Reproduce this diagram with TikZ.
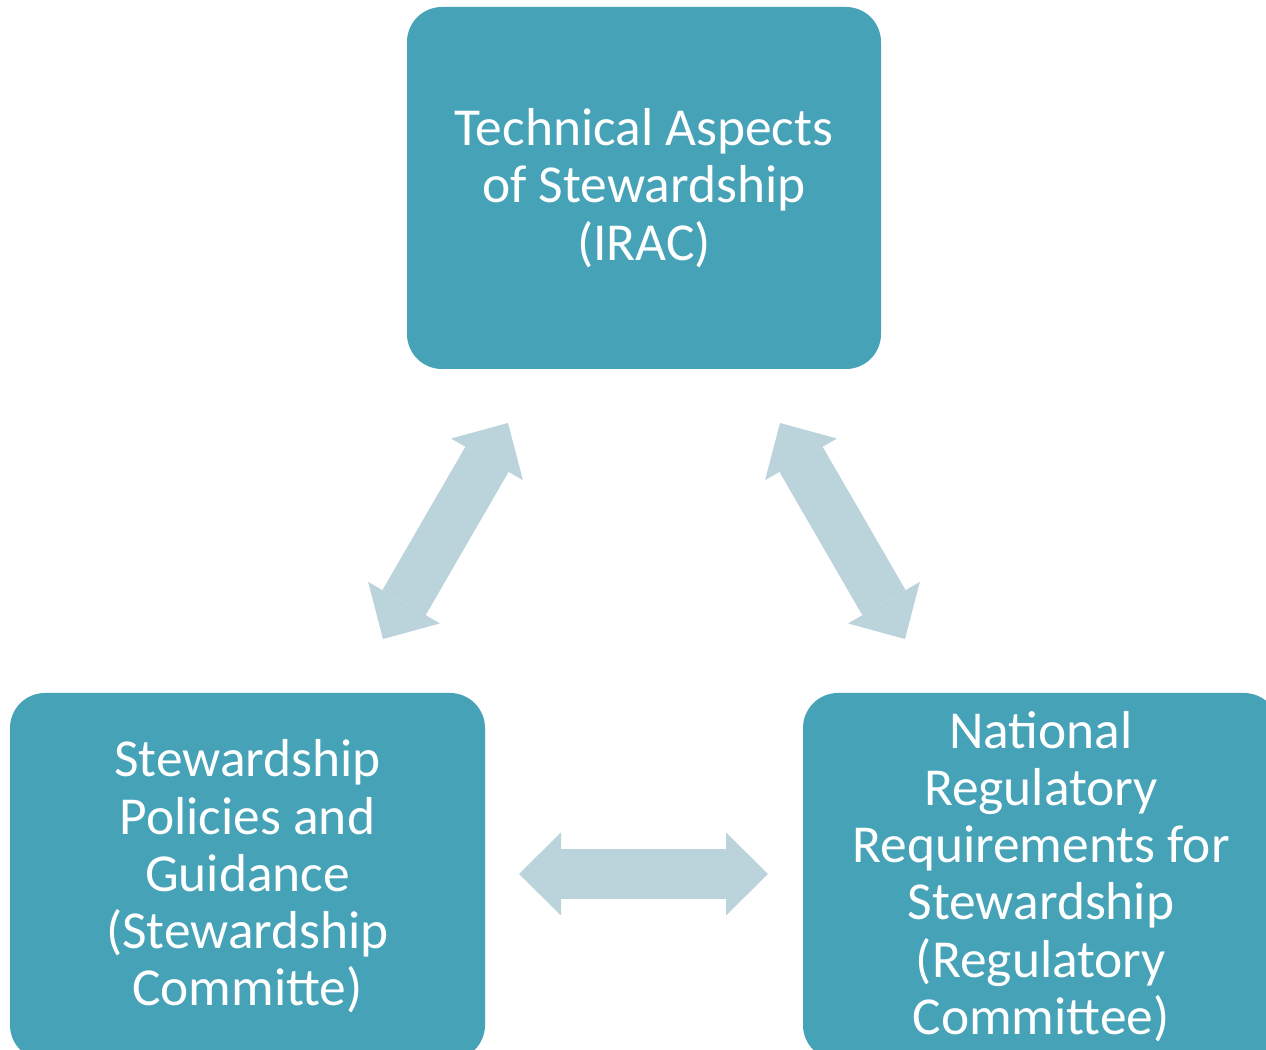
\documentclass[tikz,border=0pt]{standalone}
\usepackage{fontspec}
\setmainfont{Carlito}
\usetikzlibrary{arrows.meta}

\definecolor{boxteal}{HTML}{45A2B7}
\definecolor{arrowgrey}{HTML}{BBD3DB}

\tikzset{
  panel/.style={fill=boxteal, rounded corners=0.35cm, text=white, align=center,
    font=\fontsize{15.2}{16.3}\selectfont, inner sep=0pt},
  twoway/.style={draw=arrowgrey, line width=0.5cm,
    {Triangle[length=0.42cm,width=0.83cm,line width=0pt]}-{Triangle[length=0.42cm,width=0.83cm,line width=0pt]}}
}

\begin{document}
\begin{tikzpicture}
\useasboundingbox (0,0) rectangle (12.66,10.50);
\clip (0,0) rectangle (12.66,10.50);

\node[panel, minimum width=4.74cm, minimum height=3.62cm] (irac) at (6.44,8.62) {Technical Aspects\\of Stewardship\\(IRAC)};
\node[panel, minimum width=4.75cm, minimum height=3.67cm] (policy) at (2.475,1.735) {Stewardship\\Policies and\\Guidance\\(Stewardship\\Committe)};
\node[panel, minimum width=4.76cm, minimum height=3.67cm] (regul) at (10.41,1.735) {National\\Regulatory\\Requirements for\\Stewardship\\(Regulatory\\Committee)};

\coordinate (a1) at (5.08,6.27);
\coordinate (a2) at (3.83,4.11);
\coordinate (b1) at (7.80,6.27);
\coordinate (b2) at (9.05,4.11);
\coordinate (c1) at (5.19,1.76);
\coordinate (c2) at (7.68,1.76);

\path[twoway] (a1) -- (a2);
\path[twoway] (b1) -- (b2);
\path[twoway] (c1) -- (c2);

\end{tikzpicture}
\end{document}
